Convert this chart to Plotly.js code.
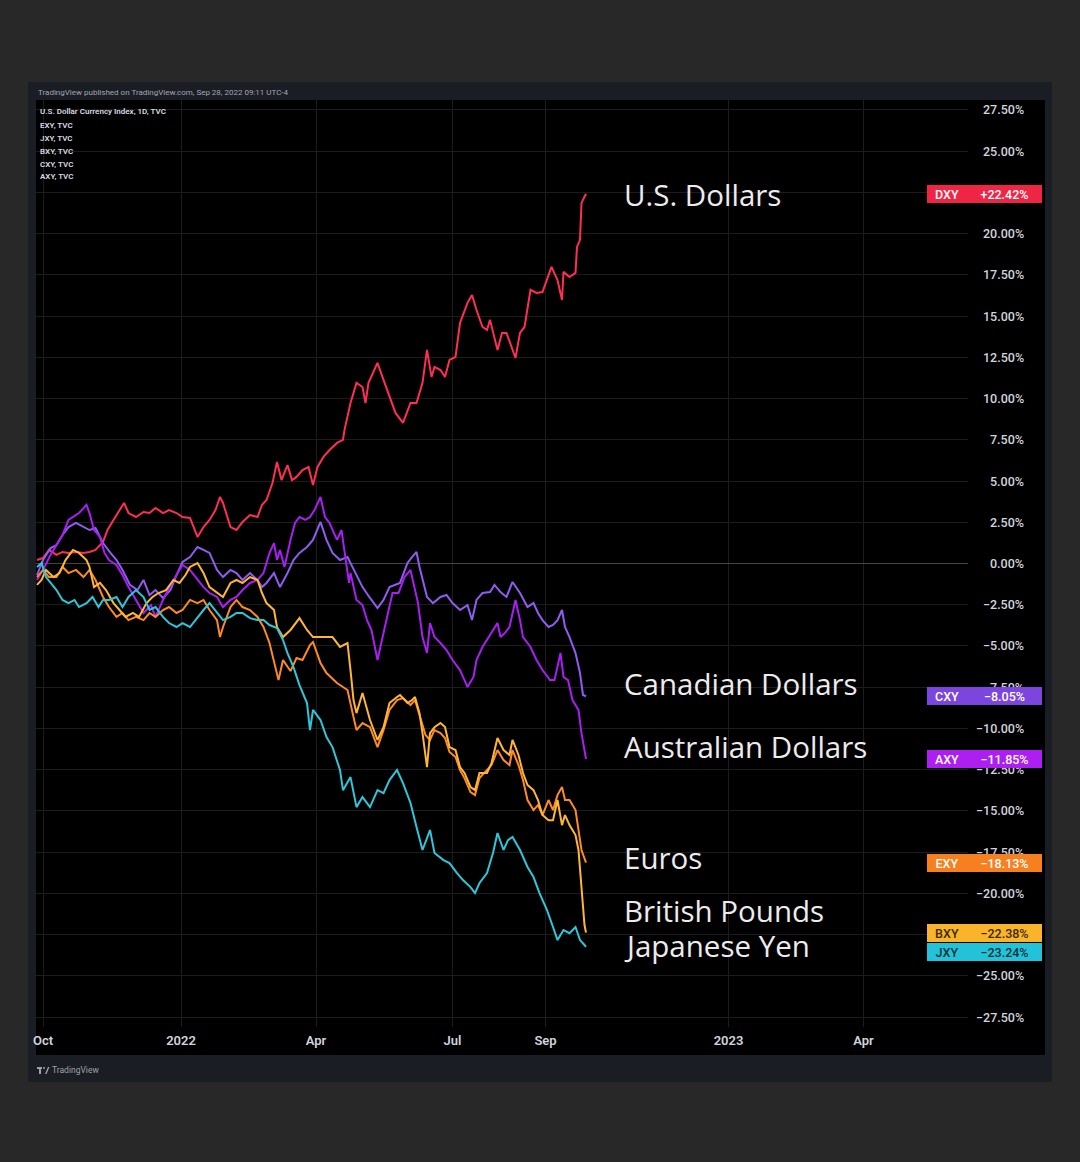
<!DOCTYPE html>
<html>
<head>
<meta charset="utf-8">
<script src="https://cdn.plot.ly/plotly-3.0.1.min.js"></script>
<style>
html,body{margin:0;padding:0;background:#282828;}
#chart{width:1080px;height:1162px;}
</style>
</head>
<body>
<div id="chart"></div>
<script>
// ---------------- DATA (percent change, compare mode) ----------------
const dxyDates = ["2021-09-27","2021-10-01","2021-10-05","2021-10-10","2021-10-14","2021-10-18","2021-10-23","2021-10-28","2021-11-01","2021-11-05","2021-11-10","2021-11-13","2021-11-17","2021-11-24","2021-11-27","2021-12-02","2021-12-07","2021-12-11","2021-12-15","2021-12-20","2021-12-24","2021-12-29","2022-01-02","2022-01-07","2022-01-12","2022-01-16","2022-01-20","2022-01-24","2022-01-27","2022-01-29","2022-02-03","2022-02-07","2022-02-11","2022-02-16","2022-02-21","2022-02-24","2022-02-27","2022-03-03","2022-03-06","2022-03-09","2022-03-13","2022-03-16","2022-03-19","2022-03-23","2022-03-27","2022-03-30","2022-04-02","2022-04-06","2022-04-10","2022-04-15","2022-04-19","2022-04-20","2022-04-24","2022-04-28","2022-05-02","2022-05-04","2022-05-06","2022-05-12","2022-05-16","2022-05-20","2022-05-24","2022-05-29","2022-06-03","2022-06-07","2022-06-11","2022-06-14","2022-06-17","2022-06-19","2022-06-23","2022-06-26","2022-06-29","2022-07-03","2022-07-06","2022-07-11","2022-07-14","2022-07-17","2022-07-21","2022-07-24","2022-07-26","2022-07-31","2022-08-03","2022-08-06","2022-08-10","2022-08-12","2022-08-15","2022-08-18","2022-08-22","2022-08-26","2022-08-30","2022-09-02","2022-09-05","2022-09-09","2022-09-12","2022-09-13","2022-09-17","2022-09-21","2022-09-22","2022-09-24","2022-09-25","2022-09-28"];
const dxyValues = [0.21,0.33,0.82,0.52,0.70,0.64,0.70,0.64,0.70,0.82,1.30,2.03,2.64,3.67,3.06,2.82,3.12,3.06,3.37,3.06,3.24,3.06,2.82,2.76,1.61,2.21,2.64,3.24,4.03,3.67,2.21,2.03,2.52,2.94,2.82,3.55,3.85,4.88,6.16,5.06,5.97,5.06,5.25,5.67,5.85,4.76,5.85,6.46,6.88,7.31,7.49,8.10,9.73,10.95,10.70,9.73,10.95,12.16,11.13,10.10,9.13,8.52,9.73,9.73,10.95,12.95,11.31,11.92,11.73,11.31,12.34,12.52,14.58,15.80,16.28,15.37,14.34,14.16,14.77,12.95,13.98,13.98,12.95,12.46,13.98,14.34,16.59,16.40,16.46,17.19,17.98,17.19,15.98,17.68,17.37,17.62,19.19,19.62,21.86,22.42];

const cxyDates = ["2021-09-27","2021-10-01","2021-10-06","2021-10-10","2021-10-14","2021-10-18","2021-10-23","2021-10-28","2021-11-01","2021-11-05","2021-11-10","2021-11-15","2021-11-19","2021-11-23","2021-11-28","2021-12-03","2021-12-07","2021-12-11","2021-12-15","2021-12-20","2021-12-25","2021-12-29","2022-01-02","2022-01-07","2022-01-12","2022-01-16","2022-01-20","2022-01-25","2022-01-29","2022-02-03","2022-02-07","2022-02-11","2022-02-16","2022-02-21","2022-02-24","2022-02-27","2022-03-04","2022-03-08","2022-03-13","2022-03-17","2022-03-21","2022-03-26","2022-03-30","2022-04-04","2022-04-08","2022-04-12","2022-04-17","2022-04-22","2022-04-24","2022-04-28","2022-05-02","2022-05-07","2022-05-12","2022-05-16","2022-05-20","2022-05-27","2022-06-01","2022-06-04","2022-06-07","2022-06-09","2022-06-14","2022-06-18","2022-06-23","2022-06-27","2022-07-01","2022-07-06","2022-07-11","2022-07-14","2022-07-17","2022-07-21","2022-07-26","2022-07-29","2022-08-02","2022-08-06","2022-08-10","2022-08-15","2022-08-20","2022-08-24","2022-08-27","2022-08-30","2022-09-03","2022-09-06","2022-09-09","2022-09-12","2022-09-14","2022-09-17","2022-09-21","2022-09-24","2022-09-26","2022-09-28"];
const cxyValues = [-0.70,0.21,0.94,1.12,1.73,2.21,2.46,2.21,2.03,2.15,1.24,0.64,0.21,-0.39,-1.30,-1.61,-1.00,-1.91,-1.61,-2.09,-1.61,-0.70,0.09,0.39,1.00,0.82,0.64,-0.39,-0.82,-0.39,-0.58,-1.00,-0.58,-1.00,-1.43,-1.18,-0.58,-1.43,-0.58,0.21,0.64,1.00,1.43,2.52,1.43,0.64,0.21,0.39,0.03,-0.70,-1.43,-2.09,-2.70,-2.21,-1.43,-1.18,0.03,0.39,0.70,-0.21,-2.03,-2.40,-2.03,-1.91,-2.40,-2.82,-2.52,-3.43,-2.21,-1.79,-1.73,-1.30,-1.73,-2.03,-1.12,-1.79,-2.64,-2.40,-3.00,-3.43,-3.85,-3.73,-3.43,-2.82,-3.85,-4.46,-5.43,-6.64,-7.97,-8.05];

const axyDates = ["2021-09-27","2021-10-01","2021-10-06","2021-10-10","2021-10-14","2021-10-18","2021-10-21","2021-10-25","2021-10-30","2021-11-01","2021-11-04","2021-11-08","2021-11-11","2021-11-14","2021-11-19","2021-11-23","2021-11-27","2021-12-02","2021-12-07","2021-12-12","2021-12-15","2021-12-20","2021-12-25","2021-12-29","2022-01-02","2022-01-07","2022-01-12","2022-01-16","2022-01-20","2022-01-25","2022-01-29","2022-02-03","2022-02-07","2022-02-11","2022-02-16","2022-02-21","2022-02-25","2022-03-01","2022-03-04","2022-03-06","2022-03-08","2022-03-11","2022-03-15","2022-03-18","2022-03-21","2022-03-25","2022-03-28","2022-03-31","2022-04-04","2022-04-07","2022-04-10","2022-04-15","2022-04-18","2022-04-20","2022-04-23","2022-04-24","2022-04-28","2022-05-02","2022-05-05","2022-05-08","2022-05-12","2022-05-16","2022-05-20","2022-05-22","2022-05-26","2022-05-30","2022-06-03","2022-06-05","2022-06-08","2022-06-11","2022-06-14","2022-06-16","2022-06-19","2022-06-23","2022-06-27","2022-07-01","2022-07-06","2022-07-09","2022-07-11","2022-07-15","2022-07-17","2022-07-21","2022-07-24","2022-07-28","2022-07-31","2022-08-02","2022-08-05","2022-08-08","2022-08-12","2022-08-15","2022-08-17","2022-08-22","2022-08-26","2022-08-30","2022-09-04","2022-09-07","2022-09-11","2022-09-13","2022-09-16","2022-09-19","2022-09-23","2022-09-25","2022-09-28"];
const axyValues = [-1.00,-0.39,0.52,1.12,1.73,2.64,2.82,3.06,3.55,3.06,2.03,1.61,0.64,0.21,-0.09,-0.70,-1.43,-2.21,-3.00,-2.52,-3.24,-2.21,-1.30,-0.70,-0.09,-0.39,-1.00,-1.43,-1.79,-2.03,-2.64,-2.21,-2.03,-1.61,-1.18,-1.00,-0.58,0.64,1.24,0.21,0.82,-0.21,1.43,2.46,2.82,2.64,2.82,3.24,4.03,2.82,2.46,1.43,2.03,0.82,-1.18,-0.58,-2.21,-2.52,-3.43,-4.03,-5.85,-4.21,-2.64,-1.79,-1.79,-0.82,-0.39,-1.18,-2.40,-4.46,-5.43,-3.61,-4.46,-4.82,-5.25,-5.85,-6.46,-7.07,-7.49,-6.88,-5.85,-5.06,-4.64,-4.03,-3.61,-4.46,-4.21,-3.85,-2.21,-3.43,-4.46,-5.06,-5.85,-6.46,-7.07,-7.07,-5.43,-6.88,-7.07,-8.28,-8.88,-10.28,-11.85];

const exyDates = ["2021-09-27","2021-10-01","2021-10-05","2021-10-10","2021-10-14","2021-10-18","2021-10-23","2021-10-28","2021-11-01","2021-11-05","2021-11-10","2021-11-14","2021-11-19","2021-11-23","2021-11-27","2021-12-02","2021-12-07","2021-12-11","2021-12-15","2021-12-20","2021-12-24","2021-12-29","2022-01-02","2022-01-07","2022-01-12","2022-01-16","2022-01-20","2022-01-25","2022-01-27","2022-01-29","2022-02-03","2022-02-07","2022-02-11","2022-02-16","2022-02-21","2022-02-25","2022-03-01","2022-03-05","2022-03-07","2022-03-10","2022-03-15","2022-03-19","2022-03-23","2022-03-28","2022-03-30","2022-04-04","2022-04-08","2022-04-15","2022-04-22","2022-04-26","2022-04-28","2022-05-02","2022-05-07","2022-05-12","2022-05-16","2022-05-20","2022-05-25","2022-05-29","2022-06-03","2022-06-06","2022-06-09","2022-06-13","2022-06-16","2022-06-19","2022-06-23","2022-06-26","2022-06-29","2022-07-03","2022-07-06","2022-07-09","2022-07-13","2022-07-16","2022-07-19","2022-07-24","2022-07-27","2022-07-31","2022-08-04","2022-08-08","2022-08-10","2022-08-14","2022-08-17","2022-08-20","2022-08-24","2022-08-27","2022-08-30","2022-09-03","2022-09-06","2022-09-09","2022-09-12","2022-09-14","2022-09-17","2022-09-21","2022-09-23","2022-09-25","2022-09-28"];
const exyValues = [-0.82,-0.39,-0.82,-0.82,-0.21,-0.58,-0.39,-0.82,-0.39,-1.00,-2.03,-2.64,-3.24,-3.00,-3.43,-3.24,-3.43,-3.00,-3.24,-2.82,-2.64,-3.00,-2.82,-2.21,-2.40,-2.21,-2.82,-3.43,-4.46,-3.85,-2.64,-2.21,-2.64,-2.82,-3.24,-3.85,-4.82,-6.28,-7.07,-5.85,-6.52,-5.73,-5.85,-4.94,-4.76,-6.03,-6.64,-7.25,-7.67,-9.31,-10.10,-9.67,-9.92,-11.13,-10.10,-8.88,-8.28,-8.16,-8.58,-8.28,-9.19,-10.40,-10.70,-10.10,-10.28,-10.58,-11.43,-11.73,-12.52,-13.01,-13.86,-14.04,-13.01,-12.52,-12.22,-11.31,-11.92,-12.22,-11.31,-12.22,-13.13,-14.34,-14.95,-14.65,-15.25,-14.34,-14.95,-14.04,-13.55,-14.34,-14.34,-14.95,-16.16,-17.37,-18.13];

const bxyDates = ["2021-09-27","2021-09-30","2021-10-03","2021-10-08","2021-10-12","2021-10-16","2021-10-21","2021-10-25","2021-10-30","2021-11-01","2021-11-04","2021-11-08","2021-11-12","2021-11-17","2021-11-21","2021-11-25","2021-11-30","2021-12-04","2021-12-09","2021-12-13","2021-12-17","2021-12-22","2021-12-27","2021-12-31","2022-01-04","2022-01-07","2022-01-12","2022-01-16","2022-01-20","2022-01-25","2022-01-29","2022-02-03","2022-02-07","2022-02-11","2022-02-16","2022-02-21","2022-02-24","2022-02-27","2022-03-04","2022-03-06","2022-03-10","2022-03-15","2022-03-21","2022-03-26","2022-03-30","2022-04-06","2022-04-12","2022-04-17","2022-04-22","2022-04-24","2022-04-26","2022-04-28","2022-05-02","2022-05-07","2022-05-12","2022-05-16","2022-05-20","2022-05-25","2022-05-27","2022-06-01","2022-06-04","2022-06-06","2022-06-09","2022-06-11","2022-06-14","2022-06-16","2022-06-19","2022-06-23","2022-06-26","2022-06-29","2022-07-03","2022-07-06","2022-07-09","2022-07-13","2022-07-16","2022-07-19","2022-07-24","2022-07-27","2022-07-31","2022-08-04","2022-08-08","2022-08-10","2022-08-14","2022-08-17","2022-08-20","2022-08-24","2022-08-27","2022-08-30","2022-09-03","2022-09-06","2022-09-09","2022-09-12","2022-09-14","2022-09-17","2022-09-21","2022-09-23","2022-09-24","2022-09-26","2022-09-27","2022-09-28"];
const bxyValues = [-1.30,-1.00,-0.39,-0.82,-0.58,0.21,0.82,0.64,0.21,-0.21,-1.43,-1.18,-1.61,-2.40,-2.82,-3.24,-3.00,-3.24,-2.40,-2.03,-1.79,-1.61,-1.00,-1.18,-0.70,-0.21,0.03,-0.58,-1.43,-1.79,-2.03,-1.18,-1.00,-1.18,-0.82,-1.00,-1.79,-2.40,-2.82,-3.85,-4.46,-4.03,-3.31,-4.03,-4.46,-4.46,-4.46,-5.06,-4.82,-6.46,-8.28,-9.07,-7.85,-9.49,-10.70,-9.92,-8.46,-8.09,-7.97,-8.46,-8.28,-8.09,-9.07,-10.28,-12.34,-10.28,-9.92,-9.67,-9.92,-11.13,-11.31,-12.34,-12.70,-13.55,-13.74,-12.70,-12.70,-12.10,-10.58,-11.31,-11.61,-10.70,-11.61,-12.70,-13.43,-13.74,-14.34,-15.25,-15.56,-15.56,-14.34,-15.86,-15.25,-15.86,-16.46,-17.37,-18.59,-21.01,-21.92,-22.38];

const jxyDates = ["2021-09-27","2021-09-30","2021-10-03","2021-10-06","2021-10-10","2021-10-14","2021-10-18","2021-10-22","2021-10-25","2021-10-30","2021-11-03","2021-11-07","2021-11-10","2021-11-14","2021-11-19","2021-11-23","2021-11-27","2021-12-02","2021-12-07","2021-12-11","2021-12-15","2021-12-20","2021-12-24","2021-12-29","2022-01-02","2022-01-07","2022-01-12","2022-01-16","2022-01-20","2022-01-25","2022-01-29","2022-02-03","2022-02-07","2022-02-11","2022-02-16","2022-02-21","2022-02-25","2022-03-01","2022-03-06","2022-03-10","2022-03-13","2022-03-17","2022-03-21","2022-03-26","2022-03-28","2022-03-30","2022-04-04","2022-04-08","2022-04-12","2022-04-17","2022-04-19","2022-04-24","2022-04-28","2022-05-02","2022-05-07","2022-05-12","2022-05-16","2022-05-20","2022-05-25","2022-05-29","2022-06-03","2022-06-07","2022-06-11","2022-06-16","2022-06-19","2022-06-25","2022-06-29","2022-07-04","2022-07-08","2022-07-13","2022-07-16","2022-07-19","2022-07-24","2022-07-28","2022-07-31","2022-08-04","2022-08-07","2022-08-10","2022-08-15","2022-08-20","2022-08-24","2022-08-28","2022-09-02","2022-09-06","2022-09-09","2022-09-13","2022-09-17","2022-09-21","2022-09-24","2022-09-27","2022-09-28"];
const jxyValues = [-0.21,0.03,-0.82,-1.18,-1.61,-2.21,-2.40,-2.21,-2.64,-2.40,-2.03,-2.64,-2.21,-2.21,-2.03,-2.64,-2.03,-1.61,-2.03,-2.82,-2.64,-3.24,-3.61,-3.85,-3.61,-3.85,-3.24,-2.82,-2.40,-3.00,-3.43,-3.24,-3.00,-3.00,-3.31,-3.43,-3.43,-3.73,-3.91,-4.64,-5.43,-6.28,-7.37,-8.46,-10.10,-8.88,-9.49,-10.52,-11.13,-12.52,-13.74,-12.95,-14.77,-14.16,-14.77,-13.74,-13.92,-13.13,-12.52,-13.31,-14.52,-15.98,-17.37,-16.16,-17.55,-17.98,-18.16,-18.77,-19.19,-19.62,-19.98,-19.37,-18.77,-17.55,-16.34,-17.37,-16.77,-16.58,-17.37,-18.40,-19.01,-19.98,-21.01,-22.04,-22.83,-22.22,-22.41,-22.04,-22.83,-23.13,-23.24];

const symbols = ["DXY","CXY","AXY","EXY","BXY","JXY"];
const names = ["U.S. Dollars","Canadian Dollars","Australian Dollars","Euros","British Pounds","Japanese Yen"];
const lastChange = ["+22.42%","\u22128.05%","\u221211.85%","\u221218.13%","\u221222.38%","\u221223.24%"];
const legendLines = ["U.S. Dollar Currency Index, 1D, TVC","EXY, TVC","JXY, TVC","BXY, TVC","CXY, TVC","AXY, TVC"];
const xTickDates = ["2021-10-01","2022-01-01","2022-04-01","2022-07-01","2022-09-01","2023-01-01","2023-04-01"];
const xTickText = ["Oct","2022","Apr","Jul","Sep","2023","Apr"];
const yTicks = [27.5,25,22.5,20,17.5,15,12.5,10,7.5,5,2.5,0,-2.5,-5,-7.5,-10,-12.5,-15,-17.5,-20,-22.5,-25,-27.5];

// ---------------- STYLE ----------------
const lineColors = ["#ff2e55","#8f5cf0","#a91ef2","#ff8a24","#ffb733","#2ec6d8"];
const tagColors  = ["#ef2545","#7c45de","#ad1ff0","#f6801f","#f9b42c","#22c3d8"];
const tagText    = ["#ffffff","#ffffff","#ffffff","#ffffff","#3a2a00","#06303a"];
const labelY     = [195,684,746,857,910,945];   // pixel rows of the big text labels

const W = 1080, H = 1162;
const L = 36, R = 968, T = 100, B = 1027;
const PW = R - L, PH = B - T;
const YR = [-28.1, 28.1];
const px2paperX = p => (p - L) / PW;
const px2paperY = p => (B - p) / PH;
const val2px = v => T + (YR[1] - v) / (YR[1] - YR[0]) * PH;

const seriesX = [dxyDates,cxyDates,axyDates,exyDates,bxyDates,jxyDates];
const seriesY = [dxyValues,cxyValues,axyValues,exyValues,bxyValues,jxyValues];

const traces = symbols.map((s,i)=>({
  type:"scatter", mode:"lines", name:s,
  x: seriesX[i], y: seriesY[i],
  line:{color:lineColors[i], width:2},
  hoverinfo:"skip", showlegend:false
}));

const annotations = [];
const fontMain = "Roboto, 'Liberation Sans', Arial, sans-serif";

// header + legend text
annotations.push({xref:"paper",yref:"paper",x:px2paperX(36),y:px2paperY(92),xanchor:"left",yanchor:"middle",
  text:"TradingView published on TradingView.com, Sep 28, 2022 09:11 UTC-4",showarrow:false,
  font:{family:fontMain,size:8,color:"#a3a6af"}});
legendLines.forEach((t,i)=>annotations.push({xref:"paper",yref:"paper",x:px2paperX(38),y:px2paperY(112+i*13),
  xanchor:"left",yanchor:"middle",text:t,showarrow:false,font:{family:fontMain,size:8,color:"#d8dae0",weight:600}}));
// footer
annotations.push({xref:"paper",yref:"paper",x:px2paperX(50),y:px2paperY(1070),xanchor:"left",yanchor:"middle",
  text:"TradingView",showarrow:false,font:{family:fontMain,size:8.5,color:"#9ea1aa"}});

// price tags, pushed apart if they collide
const tagCenters = [];
let order = symbols.map((s,i)=>i).sort((a,b)=>seriesY[b][seriesY[b].length-1]-seriesY[a][seriesY[a].length-1]);
let prevPx = -1e9;
const tagAnn = [];
order.forEach(i=>{
  const v = seriesY[i][seriesY[i].length-1];
  let p = val2px(v);
  let shift = 0;
  if (p < prevPx + 19) { shift = (prevPx + 19) - p; p = prevPx + 19; }
  prevPx = p;
  tagCenters.push(p);
  const common = {yref:"y",y:v,yshift:-shift,xref:"paper",yanchor:"middle",showarrow:false,
    bgcolor:tagColors[i],bordercolor:tagColors[i],borderwidth:1,borderpad:1,height:14,align:"center",
    font:{family:fontMain,size:12.5,color:tagText[i],weight:500}};
  tagAnn.push(Object.assign({},common,{x:px2paperX(927),xanchor:"left",width:36,text:symbols[i]}));
  tagAnn.push(Object.assign({},common,{x:px2paperX(967),xanchor:"left",width:71,text:lastChange[i]}));
});

// y tick labels (right aligned); a label that a price tag hides completely is not drawn
yTicks.forEach(v=>{
  const p = val2px(v);
  if (tagCenters.some(c=>Math.abs(c-p) < 5)) return;
  annotations.push({xref:"paper",yref:"y",x:px2paperX(1026),y:v,xanchor:"right",yanchor:"middle",
    text:(v<0?"\u2212":"")+Math.abs(v).toFixed(2)+"%",showarrow:false,
    font:{family:fontMain,size:12.5,color:"#d1d4dc",weight:500}});
});

// big text labels
names.forEach((n,i)=>annotations.push({xref:"paper",yref:"paper",x:px2paperX(622),y:px2paperY(labelY[i]),
  xanchor:"left",yanchor:"middle",text:n,showarrow:false,
  font:{family:"'Open Sans', 'DejaVu Sans', sans-serif",size:29.5,color:"#ececec",weight:500}}));

tagAnn.forEach(a=>annotations.push(a));

const shapes = [
  // TradingView panel frame
  {type:"rect",xref:"paper",yref:"paper",x0:px2paperX(28),x1:px2paperX(1052),y0:px2paperY(82),y1:px2paperY(1082),
   fillcolor:"#1b1d24",line:{width:0},layer:"below"},
  // black chart pane incl. price & time scales
  {type:"rect",xref:"paper",yref:"paper",x0:px2paperX(36),x1:px2paperX(1045),y0:px2paperY(100),y1:px2paperY(1055),
   fillcolor:"#000000",line:{width:0},layer:"below"},
  // tiny TV logo
  {type:"rect",xref:"paper",yref:"paper",x0:px2paperX(37),x1:px2paperX(42),y0:px2paperY(1067),y1:px2paperY(1069),
   fillcolor:"#9ea1aa",line:{width:0}},
  {type:"rect",xref:"paper",yref:"paper",x0:px2paperX(39),x1:px2paperX(41),y0:px2paperY(1067),y1:px2paperY(1074),
   fillcolor:"#9ea1aa",line:{width:0}},
  {type:"path",xref:"paper",yref:"paper",
   path:`M ${px2paperX(45)} ${px2paperY(1074)} L ${px2paperX(48)} ${px2paperY(1067)} L ${px2paperX(49.5)} ${px2paperY(1067)} L ${px2paperX(46.5)} ${px2paperY(1074)} Z`,
   fillcolor:"#9ea1aa",line:{width:0}},
  {type:"circle",xref:"paper",yref:"paper",x0:px2paperX(43),x1:px2paperX(45),y0:px2paperY(1067),y1:px2paperY(1069),
   fillcolor:"#9ea1aa",line:{width:0}}
];

const layout = {
  width:W, height:H,
  margin:{l:L, r:W-R, t:T, b:H-B, pad:0},
  paper_bgcolor:"#282828",
  plot_bgcolor:"#000000",
  showlegend:false,
  xaxis:{type:"date",range:["2021-09-26 08:00","2023-06-09 16:00"],
    tickmode:"array",tickvals:xTickDates,ticktext:xTickText,
    showgrid:true,gridcolor:"#1c1c1c",gridwidth:1,zeroline:false,showline:false,ticks:"",
    tickfont:{family:fontMain,size:13,color:"#d1d4dc",weight:600},ticklabelstandoff:4,fixedrange:true},
  yaxis:{range:YR,side:"right",tickmode:"array",tickvals:yTicks,showticklabels:false,
    showgrid:true,gridcolor:"#1c1c1c",gridwidth:1,zeroline:true,zerolinecolor:"#444444",zerolinewidth:1,
    showline:false,ticks:"",fixedrange:true},
  annotations:annotations,
  shapes:shapes
};

Plotly.newPlot("chart", traces, layout, {displayModeBar:false, staticPlot:true});
</script>
</body>
</html>
